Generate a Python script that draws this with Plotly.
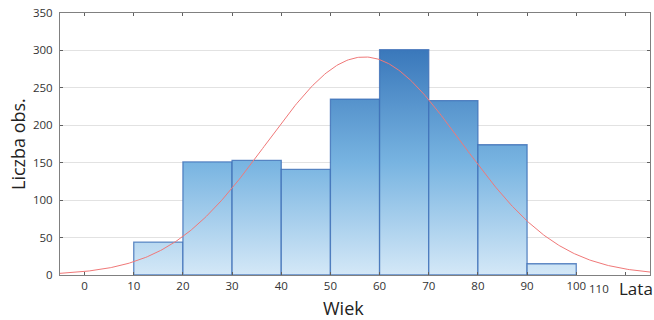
import numpy as np
import plotly.graph_objects as go

# ---- data ----
bin_left = [10, 20, 30, 40, 50, 60, 70, 80, 90]
bin_width = 10
counts = [44, 151, 153, 141, 235, 301, 233, 174, 15]
x_ticks = [0, 10, 20, 30, 40, 50, 60, 70, 80, 90, 100, 110]
x_ticktext = ["0", "10", "20", "30", "40", "50", "60", "70", "80", "90", "100", ""]
y_ticks = [0, 50, 100, 150, 200, 250, 300, 350]
x_title = "Wiek"
y_title = "Liczba obs."
unit_label = "Lata"

# fitted normal curve (from the binned data)
mids = np.array(bin_left) + bin_width / 2
cnt = np.array(counts, dtype=float)
n = cnt.sum()
mu = (mids * cnt).sum() / n
var = ((mids - mu) ** 2 * cnt).sum() / n - bin_width ** 2 / 12
sd = np.sqrt(var)
xc = np.linspace(-5, 115, 400)
yc = n * bin_width / (sd * np.sqrt(2 * np.pi)) * np.exp(-(xc - mu) ** 2 / (2 * sd ** 2))

fig = go.Figure()
scale = [[0, "#d4e8f7"], [0.5, "#78b4e1"], [1, "#3a78bb"]]
for left, c in zip(bin_left, counts):
    xs = [left, left, left + bin_width, left + bin_width, left]
    ys = [0, c, c, 0, 0]
    fig.add_trace(go.Scatter(
        x=xs, y=ys, mode="lines", fill="toself",
        fillgradient=dict(type="vertical", colorscale=scale, start=0, stop=300),
        line=dict(color="rgba(60,110,182,0.8)", width=1.3),
        hoverinfo="skip", showlegend=False))

fig.add_trace(go.Scatter(x=xc, y=yc, mode="lines",
                         line=dict(color="#f07878", width=1), showlegend=False))

axis_common = dict(showline=True, linecolor="#808080", linewidth=1, mirror="allticks",
                   ticks="inside", ticklen=3, tickcolor="#606060", zeroline=False,
                   tickfont=dict(family="Open Sans", size=11.5, color="#333333"))

fig.update_xaxes(range=[-5, 115], tickvals=x_ticks, ticktext=x_ticktext,
                 showgrid=False, **axis_common)
fig.update_yaxes(range=[0, 350], tickvals=y_ticks, showgrid=True,
                 gridcolor="#e2e2e2", gridwidth=1, ticklabelstandoff=4, **axis_common)

fig.update_layout(
    width=654, height=320,
    margin=dict(l=60, r=4, t=13, b=45),
    plot_bgcolor="white", paper_bgcolor="white",
    font=dict(family="Open Sans", color="#333333"),
    annotations=[
        dict(text=x_title, xref="paper", yref="paper", x=(343 - 60) / 590, y=-(308 - 275) / 262,
             showarrow=False, font=dict(size=18, color="#222222"), xanchor="center", yanchor="middle"),
        dict(text=y_title, xref="paper", yref="paper", x=-(60 - 18) / 590, y=0.5, textangle=-90,
             showarrow=False, font=dict(size=18, color="#222222"), xanchor="center", yanchor="middle"),
        dict(text="110", xref="paper", yref="paper", x=(599 - 60) / 590, y=-(288 - 275) / 262,
             showarrow=False, font=dict(size=11.5, color="#333333"), xanchor="center", yanchor="middle"),
        dict(text=unit_label, xref="paper", yref="paper", x=(636 - 60) / 590, y=-(288 - 275) / 262,
             showarrow=False, font=dict(size=17, color="#222222"), xanchor="center", yanchor="middle"),
    ],
)

fig.write_html("out.html", config={"displayModeBar": False},
               post_script="document.body.style.margin='0';document.body.style.padding='0';")
